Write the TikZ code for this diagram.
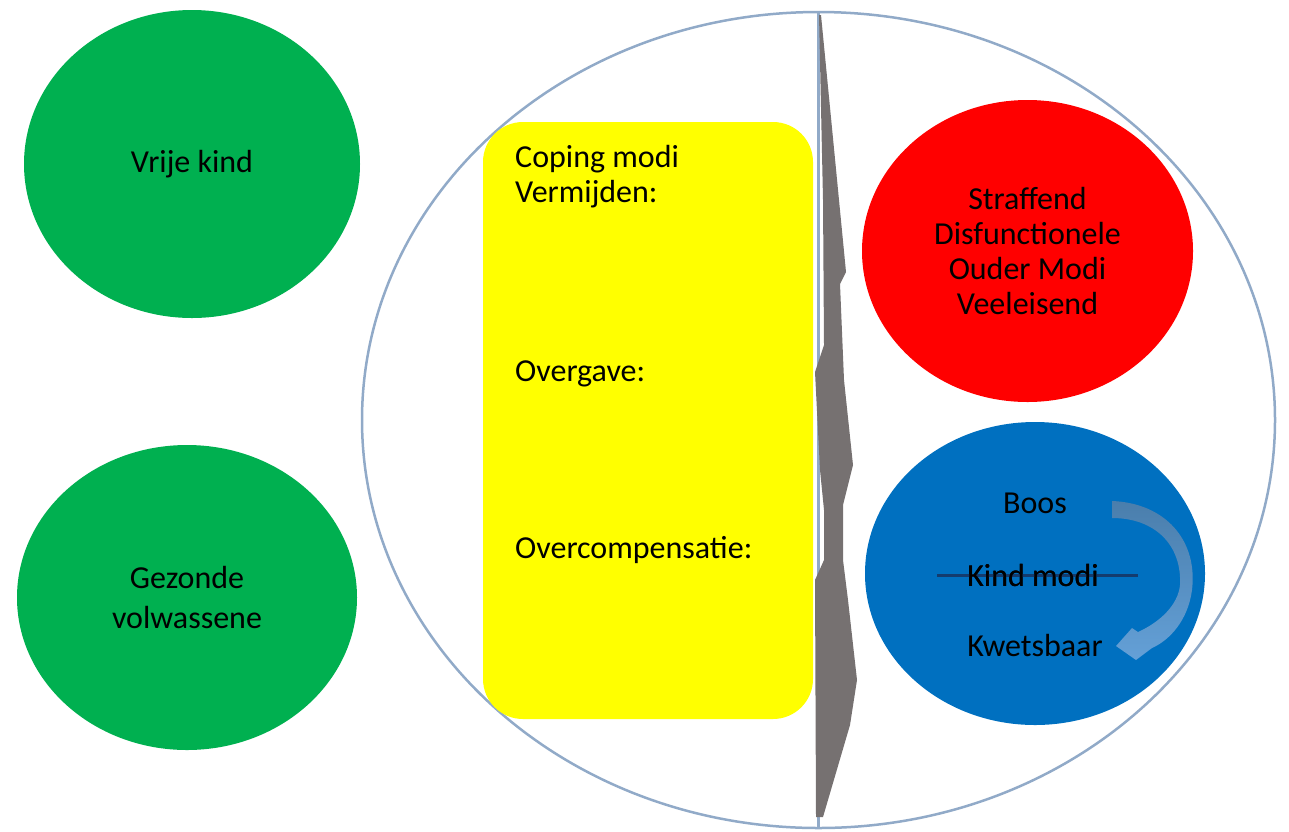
\documentclass[tikz,border=0pt]{standalone}
\usepackage{fontspec}
\setmainfont{Carlito}
\usepackage{tikz}
\usetikzlibrary{shapes.geometric}
\definecolor{modegreen}{RGB}{0,176,80}
\definecolor{modered}{RGB}{255,0,0}
\definecolor{modeblue}{RGB}{0,112,192}
\definecolor{copingyellow}{RGB}{255,255,0}
\definecolor{ringblue}{RGB}{145,170,200}
\definecolor{crackgrey}{RGB}{118,113,113}
\definecolor{arrowdark}{RGB}{74,126,172}
\definecolor{arrowlight}{RGB}{100,160,215}
\definecolor{kindline}{RGB}{20,60,110}
\newcommand{\modefont}{\fontsize{32}{35}\selectfont}
\tikzstyle{mode}=[ellipse, inner sep=0pt, align=center, font=\modefont]
\tikzstyle{modetext}=[inner sep=0pt, font=\modefont]
\tikzstyle{ring}=[draw=ringblue, line width=2.5]

\begin{document}
\begin{tikzpicture}[x=1pt,y=-1pt]
\useasboundingbox ( 0 , 0 ) rectangle ( 1289 , 831 );
\node[mode, fill=modegreen, minimum width=336, minimum height=308] (vrije) at ( 192 , 164 ){Vrije kind};
\node[mode, fill=modegreen, minimum width=340, minimum height=305] (gezond) at ( 187 , 597.5 ){Gezonde\\[5pt]volwassene};
\node[mode, ring, minimum width=913, minimum height=816] (schema) at ( 818.5 , 420 ){};
\draw[ring] (schema.north)--(schema.south);
\node[fill=copingyellow, rounded corners=40, inner sep=0pt, minimum width=330, minimum height=597] (coping) at ( 648 , 420.5 ){};
\node[modetext, anchor=base west] (copingtitel) at ( 515 , 167 ){Coping modi};
\node[modetext, anchor=base west] (vermijden) at ( 515 , 202 ){Vermijden:};
\node[modetext, anchor=base west] (overgave) at ( 515 , 381 ){Overgave:};
\node[modetext, anchor=base west] (overcomp) at ( 515 , 558 ){Overcompensatie:};
\fill[crackgrey] ( 821 , 15 )--( 846 , 272 )--( 840 , 284 )--( 844 , 380 )--( 853 , 465 )--( 843 , 505 )--( 843 , 560 )--( 848 , 600 )--( 857 , 680 )--( 850 , 725 )--( 823 , 817 )--( 816 , 817 )--( 815 , 580 )--( 824 , 560 )--( 824 , 510 )--( 820 , 470 )--( 815 , 372 )--( 824 , 345 )--( 823 , 200 )--( 819 , 15 )--cycle;
\node[mode, fill=modered, minimum width=331, minimum height=302] (ouder) at ( 1027.5 , 251 ){Straffend\\Disfunctionele\\Ouder Modi\\Veeleisend};
\node[mode, fill=modeblue, minimum width=340, minimum height=303] (kind) at ( 1035 , 573.5 ){};
\node[modetext] (boos) at ( 1035 , 503 ){Boos};
\node[modetext] (kindmodi) at ( 1033 , 575 ){Kind modi};
\node[modetext] (kwetsbaar) at ( 1035 , 645 ){Kwetsbaar};
\draw[kindline, line width=3] ([xshift=-30]kindmodi.west)--([xshift=39]kindmodi.east);
\node[modetext] at (kindmodi){Kind modi};
\shade[top color=arrowdark, bottom color=arrowlight] ( 1112 , 501 ) .. controls ( 1165 , 503 ) and ( 1198 , 540 ) .. ( 1192 , 590 ) .. controls ( 1188 , 620 ) and ( 1170 , 640 ) .. ( 1152 , 648 )--( 1136 , 660 )--( 1116 , 646 )--( 1132 , 628 )--( 1138 , 632 ) .. controls ( 1160 , 622 ) and ( 1178 , 605 ) .. ( 1180 , 585 ) .. controls ( 1182 , 545 ) and ( 1155 , 518 ) .. ( 1112 , 518 )--cycle;
\end{tikzpicture}
\end{document}
